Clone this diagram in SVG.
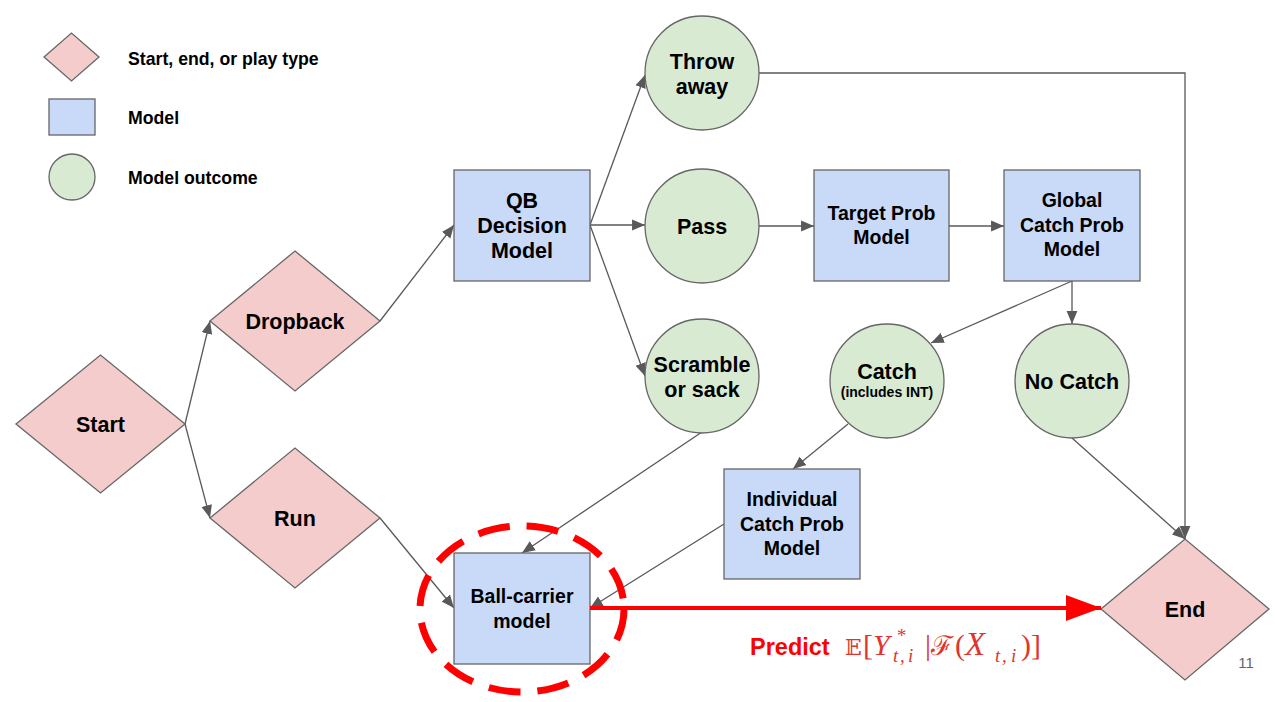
<svg xmlns="http://www.w3.org/2000/svg" width="1275" height="702" viewBox="0 0 1275 702">
<style>
.dia{fill:#f4cccc;stroke:#666;stroke-width:1.3}
.box{fill:#c9daf8;stroke:#666;stroke-width:1.3}
.cir{fill:#d9ead3;stroke:#666;stroke-width:1.3}
.t{font-family:"Liberation Sans",Arial,sans-serif;font-weight:bold;fill:#000;text-anchor:middle}
.lg{font-family:"Liberation Sans",Arial,sans-serif;font-weight:bold;font-size:17.7px;fill:#000}
.c{fill:none;stroke:#595959;stroke-width:1.3;marker-end:url(#ah)}
.m{font-family:"Liberation Serif","Times New Roman",serif;fill:#e0352c;font-size:30px}
.i{font-style:italic}
.s{font-size:19px;font-style:italic}
.d{font-family:"DejaVu Serif",serif}
</style>
<defs>
<marker id="ah" markerUnits="userSpaceOnUse" markerWidth="14" markerHeight="12" refX="12" refY="5" orient="auto" viewBox="0 0 13 10">
<path d="M0,0 L12,5 L0,10 Z" fill="#595959"/>
</marker>
<marker id="rh" markerUnits="userSpaceOnUse" markerWidth="36" markerHeight="26" refX="35" refY="13" orient="auto" viewBox="0 0 36 26">
<path d="M0,0 L35,13 L0,26 Z" fill="#ff0000"/>
</marker>
</defs>
<rect width="1275" height="702" fill="#fff"/>

<g id="legend">
<path class="dia" d="M44,57 L71.5,33 L99,57 L71.5,81 Z"/>
<rect class="box" x="49" y="99" width="46" height="36"/>
<circle class="cir" cx="72" cy="177" r="23"/>
<text class="lg" x="128" y="65">Start, end, or play type</text>
<text class="lg" x="128" y="124">Model</text>
<text class="lg" x="128" y="184">Model outcome</text>
</g>

<g id="connectors">
<line class="c" x1="185" y1="424" x2="210" y2="321"/>
<line class="c" x1="185" y1="424" x2="210" y2="518"/>
<line class="c" x1="380" y1="321" x2="454" y2="225"/>
<line class="c" x1="590" y1="225" x2="645" y2="75"/>
<line class="c" x1="590" y1="225" x2="645" y2="225"/>
<line class="c" x1="590" y1="225" x2="645" y2="376"/>
<line class="c" x1="758" y1="226" x2="814" y2="226"/>
<line class="c" x1="949" y1="226" x2="1004" y2="226"/>
<polyline class="c" points="758,73 1185,73 1185,539"/>
<line class="c" x1="1072" y1="281" x2="931" y2="343"/>
<line class="c" x1="1072" y1="281" x2="1072" y2="324"/>
<line class="c" x1="1072" y1="438" x2="1185" y2="539"/>
<line class="c" x1="848" y1="424" x2="793" y2="469"/>
<line class="c" x1="724" y1="524" x2="590" y2="608"/>
<line class="c" x1="702" y1="432" x2="522" y2="553"/>
<line class="c" x1="380" y1="518" x2="454" y2="608"/>
</g>

<g id="start"><path class="dia" d="M16,424 L100.5,355 L185,424 L100.5,493 Z"/><text class="t" x="100.5" y="432" font-size="21.5">Start</text></g>
<g id="dropback"><path class="dia" d="M210,321 L295,251 L380,321 L295,391 Z"/><text class="t" x="295" y="329" font-size="21.5">Dropback</text></g>
<g id="run"><path class="dia" d="M210,518 L295,448 L380,518 L295,588 Z"/><text class="t" x="295" y="526" font-size="21.5">Run</text></g>
<g id="qb"><rect class="box" x="454" y="170" width="136" height="111"/><text class="t" font-size="21.5"><tspan x="522" y="208">QB</tspan><tspan x="522" y="233">Decision</tspan><tspan x="522" y="258">Model</tspan></text></g>
<g id="throwaway"><circle class="cir" cx="702" cy="73" r="57"/><text class="t" font-size="21.5"><tspan x="702" y="69">Throw</tspan><tspan x="702" y="94">away</tspan></text></g>
<g id="pass"><circle class="cir" cx="702" cy="226" r="57"/><text class="t" x="702" y="234" font-size="21.5">Pass</text></g>
<g id="scramble"><circle class="cir" cx="702" cy="376" r="57"/><text class="t" font-size="21.5"><tspan x="702" y="372">Scramble</tspan><tspan x="702" y="397">or sack</tspan></text></g>
<g id="target"><rect class="box" x="814" y="170" width="135" height="111"/><text class="t" font-size="19.5"><tspan x="881.5" y="220">Target Prob</tspan><tspan x="881.5" y="244">Model</tspan></text></g>
<g id="global"><rect class="box" x="1004" y="170" width="136" height="111"/><text class="t" font-size="19.5"><tspan x="1072" y="207">Global</tspan><tspan x="1072" y="232">Catch Prob</tspan><tspan x="1072" y="256">Model</tspan></text></g>
<g id="catch"><circle class="cir" cx="887" cy="381" r="57"/><text class="t" x="887" y="379" font-size="21.5">Catch</text><text class="t" x="887" y="397" font-size="14">(includes INT)</text></g>
<g id="nocatch"><circle class="cir" cx="1072" cy="381" r="57"/><text class="t" x="1072" y="389" font-size="21.5">No Catch</text></g>
<g id="individual"><rect class="box" x="724" y="469" width="136" height="110"/><text class="t" font-size="19.5"><tspan x="792" y="506">Individual</tspan><tspan x="792" y="531">Catch Prob</tspan><tspan x="792" y="555">Model</tspan></text></g>
<g id="ballcarrier"><rect class="box" x="454" y="553" width="136" height="111"/><text class="t" font-size="19.5"><tspan x="522" y="603">Ball-carrier</tspan><tspan x="522" y="628">model</tspan></text></g>
<g id="end"><path class="dia" d="M1101,609 L1185,539 L1269,609 L1185,680 Z"/><text class="t" x="1185" y="617" font-size="21.5">End</text></g>

<g id="highlight">
<ellipse cx="522" cy="609" rx="102" ry="83" fill="none" stroke="#ff0000" stroke-width="7" stroke-dasharray="32 17"/>
<line x1="590" y1="608" x2="1101" y2="608" stroke="#ff0000" stroke-width="4" marker-end="url(#rh)"/>
<text x="750" y="655" font-family="Liberation Sans,Arial,sans-serif" font-weight="bold" font-size="23.5" fill="#ff0000">Predict</text>
<text class="m"><tspan class="d" x="845" y="655" font-size="22">𝔼</tspan><tspan x="863" y="655">[</tspan><tspan class="i" x="873" y="655">Y</tspan><tspan class="s" x="896" y="642">*</tspan><tspan class="s" x="893" y="662">t</tspan><tspan class="s" x="900" y="662">,</tspan><tspan class="s" x="908" y="662">i</tspan><tspan x="925" y="655">|</tspan><tspan class="d" x="931" y="655" font-size="27">ℱ</tspan><tspan x="955" y="655">(</tspan><tspan class="i" x="965" y="655" font-size="33">X</tspan><tspan class="s" x="995" y="662">t</tspan><tspan class="s" x="1002" y="662">,</tspan><tspan class="s" x="1011" y="662">i</tspan><tspan x="1021" y="655">)</tspan><tspan x="1031" y="655">]</tspan></text>
<text x="1246" y="668" font-family="Liberation Sans,Arial,sans-serif" font-size="15" fill="#666" text-anchor="middle">11</text>
</g>
</svg>
